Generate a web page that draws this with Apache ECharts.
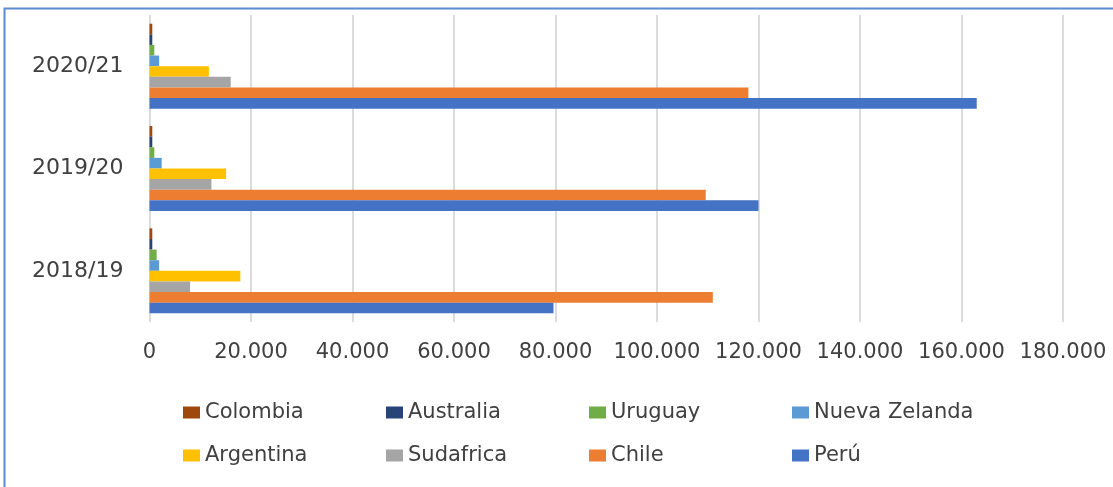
<!DOCTYPE html>
<html>
<head>
<meta charset="utf-8">
<script src="https://cdn.jsdelivr.net/npm/echarts@6/dist/echarts.min.js"></script>
<style>html,body{margin:0;padding:0;background:#fff}#c{width:1113px;height:487px}</style>
</head>
<body>
<div id="c"></div>
<script>
const categories = ['2018/19', '2019/20', '2020/21'];
const legendOrder = ['Colombia', 'Australia', 'Uruguay', 'Nueva Zelanda', 'Argentina', 'Sudafrica', 'Chile', 'Perú'];
const peru = [79600, 120000, 163000];
const chile = [111000, 109600, 118000];
const sudafrica = [8000, 12200, 16000];
const argentina = [17900, 15100, 11700];
const nuevaZelanda = [1900, 2400, 1900];
const uruguay = [1400, 950, 950];
const australia = [550, 550, 550];
const colombia = [550, 550, 550];
const xTicks = { min: 0, max: 180000, interval: 20000 };

const colors = {
  'Perú': '#4472c4', 'Chile': '#ed7d31', 'Sudafrica': '#a5a5a5', 'Argentina': '#ffc000',
  'Nueva Zelanda': '#5b9bd5', 'Uruguay': '#70ad47', 'Australia': '#264478', 'Colombia': '#9e480e'
};
const seriesData = [
  ['Colombia', colombia], ['Australia', australia], ['Uruguay', uruguay], ['Nueva Zelanda', nuevaZelanda],
  ['Argentina', argentina], ['Sudafrica', sudafrica], ['Chile', chile], ['Perú', peru]
];
const fmt = v => String(v).replace(/\B(?=(\d{3})+(?!\d))/g, '.');
const font = 'DejaVu Sans';

const chart = echarts.init(document.getElementById('c'), null, { renderer: 'canvas' });
chart.setOption({
  animation: false,
  backgroundColor: '#fff',
  graphic: [{
    type: 'rect', silent: true, z: 100,
    shape: { x: 4.5, y: 8.5, width: 1200, height: 600 },
    style: { fill: 'none', stroke: '#5b8bd0', lineWidth: 2 }
  }],
  grid: { left: 149.5, right: 50, top: 15, bottom: 165, containLabel: false },
  xAxis: {
    type: 'value', min: xTicks.min, max: xTicks.max, interval: xTicks.interval,
    axisLine: { show: false }, axisTick: { show: false },
    splitLine: { show: true, lineStyle: { color: '#dcdcdc', width: 2 } },
    axisLabel: { formatter: fmt, color: '#404040', fontSize: 21, fontFamily: font, margin: 20 }
  },
  yAxis: {
    type: 'category', data: categories,
    axisLine: { show: false }, axisTick: { show: false },
    axisLabel: { color: '#404040', fontSize: 22, fontFamily: font, margin: 26 }
  },
  legend: {
    data: legendOrder, left: 178, top: 391, width: 820, orient: 'horizontal',
    itemWidth: 17, itemHeight: 12, itemGap: 10, icon: 'rect',
    textStyle: { color: '#404040', fontSize: 21, fontFamily: font, width: 171, lineHeight: 33, overflow: 'none' }
  },
  series: seriesData.map(([name, data]) => ({
    name, type: 'bar', data, barGap: '0%', barCategoryGap: '17%',
    itemStyle: { color: colors[name] }
  }))
});
</script>
</body>
</html>
